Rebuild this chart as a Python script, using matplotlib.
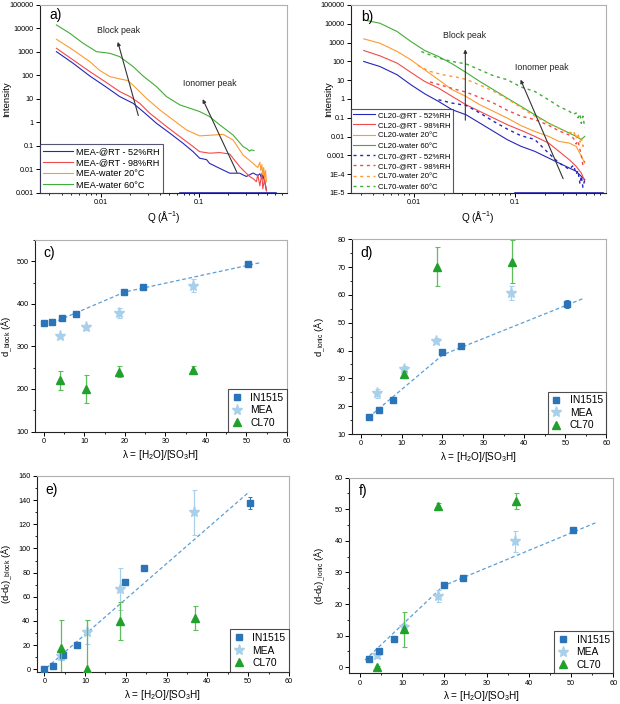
import matplotlib
matplotlib.use('Agg')
import matplotlib.pyplot as plt
from matplotlib.ticker import FixedLocator, MultipleLocator, NullFormatter, LogLocator
from matplotlib.lines import Line2D

plt.rcParams['font.family'] = ['Liberation Sans', 'DejaVu Sans']
plt.rcParams['mathtext.fontset'] = 'custom'
plt.rcParams['mathtext.rm'] = 'Liberation Sans'
plt.rcParams['mathtext.it'] = 'Liberation Sans:italic'
plt.rcParams['mathtext.bf'] = 'Liberation Sans:bold'
plt.rcParams['mathtext.default'] = 'regular'

# ---------------- Panel a data (MEA SAXS) ----------------
a_blue_q = [0.00353, 0.00522, 0.00772, 0.0114, 0.0156, 0.0214, 0.027, 0.037, 0.0506, 0.069, 0.0875, 0.102,
            0.12, 0.129, 0.164, 0.207, 0.262, 0.306, 0.358, 0.40, 0.42, 0.44, 0.45, 0.47, 0.49]
a_blue_i = [1030, 330, 95, 31.6, 12.6, 6.5, 2.9, 0.92, 0.35, 0.13, 0.057, 0.03,
            0.026, 0.018, 0.011, 0.0069, 0.0069, 0.005, 0.007, 0.0055, 0.0065, 0.004, 0.006, 0.003, 0.0013]
a_red_q = [0.00353, 0.00522, 0.00772, 0.0114, 0.0156, 0.0198, 0.025, 0.0316, 0.0468, 0.064, 0.0875, 0.102,
           0.129, 0.164, 0.207, 0.262, 0.33, 0.36, 0.387, 0.40, 0.42, 0.44, 0.45, 0.47, 0.49]
a_red_i = [1430, 457, 146, 50, 20.6, 12.6, 6.5, 2.46, 0.67, 0.25, 0.094, 0.057,
           0.049, 0.052, 0.045, 0.013, 0.005, 0.004, 0.003, 0.006, 0.002, 0.007, 0.0015, 0.004, 0.0012]
a_orange_q = [0.00353, 0.00522, 0.00772, 0.0098, 0.0124, 0.0156, 0.019, 0.0231, 0.0292, 0.04, 0.0547, 0.0748,
              0.102, 0.14, 0.177, 0.224, 0.283, 0.358, 0.40, 0.42, 0.43, 0.44, 0.45, 0.46, 0.47, 0.48, 0.49]
a_orange_i = [3460, 1216, 388, 161, 89, 71, 60, 28, 10.7, 3.4, 1.28, 0.48,
              0.267, 0.29, 0.31, 0.18, 0.041, 0.018, 0.012, 0.02, 0.009, 0.016, 0.006, 0.012, 0.004, 0.009, 0.003]
a_green_q = [0.00353, 0.00483, 0.0066, 0.00903, 0.0124, 0.0156, 0.0214, 0.027, 0.037, 0.0468, 0.064, 0.0875,
             0.102, 0.129, 0.164, 0.224, 0.283, 0.31, 0.33, 0.344, 0.366]
a_green_i = [14100, 6220, 2350, 1030, 870, 630, 238, 95, 33.5, 12.6, 5.6, 3.6,
             2.9, 1.77, 0.78, 0.29, 0.094, 0.075, 0.06, 0.068, 0.063]
a_floor_q = [0.065, 0.62]
a_labels = ['MEA-@RT - 52%RH', 'MEA-@RT - 98%RH', 'MEA-water 20°C', 'MEA-water 60°C']

# ---------------- Panel b data (CL20 / CL70 SAXS) ----------------
b_q20 = [0.00321, 0.00464, 0.00687, 0.0094, 0.01285, 0.0176, 0.024, 0.0329, 0.045, 0.0615, 0.084, 0.115,
         0.157, 0.215, 0.272, 0.344, 0.403, 0.453, 0.49]
b_cl20_blue = [98, 53, 19.2, 5.65, 1.88, 0.736, 0.266, 0.144, 0.052, 0.0188, 0.0068, 0.003,
               0.00163, 0.00072, 0.00039, 0.000213, 0.000141, 0.000076, 0.000051]
b_cl20_red = [376, 196, 80, 25.6, 8.5, 3.76, 1.36, 0.49, 0.217, 0.096, 0.0426, 0.0213,
              0.0102, 0.0045, 0.00163, 0.00059, 0.00026, 0.000115, 0.000042]
b_cl20_orange = [1567, 923, 333, 120, 35.4, 10.5, 3.07, 1.36, 0.49, 0.217, 0.096, 0.038,
                 0.0187, 0.0102, 0.0055, 0.0045, 0.003, 0.0009, 0.00039]
b_cl20_green = [15900, 10600, 3830, 1130, 376, 181, 73.6, 25.6, 8.5, 3.07, 1.1, 0.4,
                0.144, 0.052, 0.028, 0.0154, 0.0102, 0.0068, 0.0102]
b_cl70_green_q = [0.0119, 0.0176, 0.024, 0.0329, 0.045, 0.0615, 0.084, 0.115, 0.157, 0.215, 0.272, 0.344,
                  0.38, 0.403, 0.42, 0.44, 0.453, 0.47, 0.49]
b_cl70_green = [331, 148, 98, 73, 35.4, 17, 10.5, 4.3, 2.5, 0.9, 0.4, 0.22,
                0.15, 0.18, 0.1, 0.16, 0.05, 0.12, 0.03]
b_cl70_orange_q = [0.011, 0.0145, 0.0196, 0.0265, 0.0329, 0.045, 0.0615, 0.084, 0.115, 0.157, 0.215, 0.272,
                   0.344, 0.38, 0.403, 0.42, 0.44, 0.453, 0.47, 0.49]
b_cl70_orange = [60, 29, 19, 14.4, 11, 5.5, 2.6, 1.0, 0.35, 0.12, 0.05, 0.028,
                 0.015, 0.02, 0.008, 0.015, 0.005, 0.009, 0.003, 0.004]
b_cl70_red_q = [0.0145, 0.0196, 0.0265, 0.0329, 0.045, 0.0615, 0.084, 0.115, 0.157, 0.215, 0.272, 0.344,
                0.38, 0.403, 0.42, 0.44, 0.453, 0.47, 0.49]
b_cl70_red = [8, 5, 3.1, 2.3, 1.2, 0.6, 0.25, 0.12, 0.08, 0.04, 0.02, 0.012,
              0.008, 0.004, 0.006, 0.002, 0.001, 0.0003, 0.0005]
b_cl70_blue_q = [0.0176, 0.024, 0.0329, 0.045, 0.0615, 0.084, 0.115, 0.157, 0.215, 0.272, 0.344,
                 0.38, 0.403, 0.42, 0.44, 0.453, 0.47, 0.49]
b_cl70_blue = [0.9, 0.6, 0.45, 0.18, 0.064, 0.025, 0.011, 0.007, 0.0013, 0.0004, 0.00018,
               0.0003, 0.0001, 0.00015, 0.00003, 0.00008, 0.00002, 0.00005]
b_floor_q = [0.1, 0.75]
b_labels = ['CL20-@RT - 52%RH', 'CL20-@RT - 98%RH', 'CL20-water 20°C', 'CL20-water 60°C',
            'CL70-@RT - 52%RH', 'CL70-@RT - 98%RH', 'CL70-water 20°C', 'CL70-water 60°C']

# ---------------- Panels c-f data ----------------
in_lam = [0.0, 2.1, 4.5, 8.0, 19.9, 24.5, 50.5]
in_lam_ion = [2.1, 4.6, 8.0, 19.8, 24.5, 50.4]
mea_lam = [4.0, 10.5, 18.5, 36.8]
cl_lam = [4.0, 10.5, 18.6, 36.9]
cl_lam_ion = [10.5, 18.6, 36.9]

c_in = [355.7, 357, 366.7, 375.3, 427.8, 438.8, 493]
c_in_err = [3, 3, 3, 3, 3, 3, 3]
c_mea = [324.3, 344.7, 378.4, 442.7]
c_mea_err = [5, 6, 12, 15]
c_cl = [220, 201, 241, 244]
c_cl_err = [23, 33, 12, 9]
c_fit_x = [3.5, 20.0, 53.5]
c_fit_y = [361, 428, 497]

d_in = [16.2, 18.5, 22.2, 39.6, 41.8, 56.7]
d_in_err = [0.5, 0.5, 0.5, 0.5, 0.5, 1.5]
d_mea = [24.6, 33.4, 43.6, 60.8]
d_mea_err = [1.5, 1.0, 1.0, 2.5]
d_cl = [31.6, 70.2, 72.0]
d_cl_err = [1.0, 7.0, 7.8]
d_fit_x = [3.1, 20.1, 54.5]
d_fit_y = [17.4, 38.5, 58.8]

e_in = [0.55, 2.8, 11.9, 20.4, 72.6, 83.9, 137.4]
e_in_err = [1, 1, 1, 1, 2, 1, 5]
e_mea = [10.8, 30.6, 66.5, 130]
e_mea_err = [3, 10, 17.5, 18.5]
e_cl = [17.9, 0.55, 40, 42.5]
e_cl_err = [23, 40, 15.5, 10]
e_fit_x = [0.5, 50.3]
e_fit_y = [1.0, 147]

f_in = [2.6, 5.2, 8.8, 26.0, 28.3, 43.5]
f_in_err = [0.5, 0.5, 0.5, 0.8, 0.5, 1.0]
f_mea = [3.8, 12.8, 22.6, 39.8]
f_mea_err = [0.8, 1.0, 2.0, 3.3]
f_cl = [0.0, 12.0, 51.0, 52.6]
f_cl_err = [0.3, 5.6, 1.0, 2.5]
f_fit_x = [1.2, 19.8, 55.8]
f_fit_y = [2.3, 25.8, 45.7]

# ---------------- styling ----------------
C_BLUE = '#2626b8'
C_RED = '#f24a4a'
C_ORANGE = '#ff9a30'
C_GREEN = '#42ad36'
C_IN = '#2b74b8'
C_MEA = '#a8d0ea'
C_CL = '#22a02c'
C_FIT = '#5b9fd6'
TICK_FS = 5.2
LAB_FS = 6.8

fig = plt.figure(figsize=(6.2, 7.04), dpi=100)


def style_axes(ax):
    for s in ['left', 'bottom']:
        ax.spines[s].set_color('#222222')
        ax.spines[s].set_linewidth(0.8)
    for s in ['top', 'right']:
        ax.spines[s].set_color('#b0b0b0')
        ax.spines[s].set_linewidth(0.8)
    ax.tick_params(which='major', direction='out', length=3, width=0.7, labelsize=TICK_FS, pad=1.5,
                   top=False, right=False)
    ax.tick_params(which='minor', direction='out', length=1.6, width=0.6, top=False, right=False)


def log_x(ax):
    ax.set_xscale('log')
    ax.set_xlim(0.0024, 0.79)
    ax.xaxis.set_major_locator(FixedLocator([0.01, 0.1]))
    ax.set_xticklabels(['0.01', '0.1'])
    ax.xaxis.set_minor_locator(LogLocator(base=10, subs=range(2, 10)))
    ax.xaxis.set_minor_formatter(NullFormatter())
    ax.set_xlabel('Q (Å$^{-1}$)', fontsize=LAB_FS + 0.4, labelpad=2)


# ---- a ----
axa = fig.add_axes([0.0645, 0.726, 0.398, 0.267])
style_axes(axa)
axa.plot(a_blue_q, a_blue_i, color=C_BLUE, lw=0.8, label=a_labels[0])
axa.plot(a_red_q, a_red_i, color=C_RED, lw=0.8, label=a_labels[1])
axa.plot(a_orange_q, a_orange_i, color=C_ORANGE, lw=0.8, label=a_labels[2])
axa.plot(a_green_q, a_green_i, color=C_GREEN, lw=0.8, label=a_labels[3])
axa.plot(a_floor_q, [0.001, 0.001], color=C_BLUE, lw=1.2, clip_on=False)
axa.set_yscale('log')
axa.set_ylim(0.001, 100000)
log_x(axa)
a_yt = [0.001, 0.01, 0.1, 1, 10, 100, 1000, 10000, 100000]
axa.yaxis.set_major_locator(FixedLocator(a_yt))
axa.set_yticklabels(['0.001', '0.01', '0.1', '1', '10', '100', '1000', '10000', '100000'])
axa.yaxis.set_minor_formatter(NullFormatter())
axa.tick_params(axis='y', which='minor', length=0)
axa.set_ylabel('Intensity', fontsize=LAB_FS)
axa.yaxis.set_label_coords(-0.117, 0.5)
axa.annotate('', xy=(0.01467, 3470), xytext=(0.0246, 1.51),
             arrowprops=dict(arrowstyle='-|>', color='#333333', lw=0.8, mutation_scale=5))
axa.text(0.01503, 8050, 'Block peak', fontsize=6.3, ha='center', va='center', color='#222222')
axa.annotate('', xy=(0.1066, 12.5), xytext=(0.252, 0.00583),
             arrowprops=dict(arrowstyle='-|>', color='#333333', lw=0.8, mutation_scale=5))
axa.text(0.129, 43.5, 'Ionomer peak', fontsize=6.3, ha='center', va='center', color='#222222')
axa.text(0.04, 0.945, 'a)', transform=axa.transAxes, fontsize=10, ha='left', va='center')
leg = axa.legend(loc='lower left', fontsize=6.6, frameon=True, fancybox=False, borderpad=0.35,
                 handlelength=3.2, handletextpad=0.4, labelspacing=0.25, borderaxespad=0.0)
leg.get_frame().set_edgecolor('#2a2a55')
leg.get_frame().set_linewidth(0.8)

# ---- b ----
axb = fig.add_axes([0.566, 0.726, 0.411, 0.267])
style_axes(axb)
dash = (0, (2.2, 2.6))
axb.plot(b_q20, b_cl20_blue, color=C_BLUE, lw=0.8, label=b_labels[0])
axb.plot(b_q20, b_cl20_red, color=C_RED, lw=0.8, label=b_labels[1])
axb.plot(b_q20, b_cl20_orange, color=C_ORANGE, lw=0.8, label=b_labels[2])
axb.plot(b_q20, b_cl20_green, color=C_GREEN, lw=0.8, label=b_labels[3])
axb.plot(b_cl70_blue_q, b_cl70_blue, color=C_BLUE, lw=1.0, ls=dash, label=b_labels[4])
axb.plot(b_cl70_red_q, b_cl70_red, color=C_RED, lw=1.0, ls=dash, label=b_labels[5])
axb.plot(b_cl70_orange_q, b_cl70_orange, color=C_ORANGE, lw=1.0, ls=dash, label=b_labels[6])
axb.plot(b_cl70_green_q, b_cl70_green, color=C_GREEN, lw=1.0, ls=dash, label=b_labels[7])
axb.plot(b_floor_q, [1e-5, 1e-5], color=C_BLUE, lw=1.2, clip_on=False)
axb.set_yscale('log')
axb.set_ylim(1e-5, 100000)
log_x(axb)
b_yt = [1e-5, 1e-4, 1e-3, 1e-2, 0.1, 1, 10, 100, 1000, 10000, 100000]
axb.yaxis.set_major_locator(FixedLocator(b_yt))
axb.set_yticklabels(['1E-5', '1E-4', '0.001', '0.01', '0.1', '1', '10', '100', '1000', '10000', '100000'])
axb.yaxis.set_minor_formatter(NullFormatter())
axb.tick_params(axis='y', which='minor', length=0)
axb.set_ylabel('Intensity', fontsize=LAB_FS)
axb.yaxis.set_label_coords(-0.069, 0.5)
axb.annotate('', xy=(0.0324, 611), xytext=(0.0324, 0.0525),
             arrowprops=dict(arrowstyle='-|>', color='#333333', lw=0.8, mutation_scale=5))
axb.text(0.0316, 2340, 'Block peak', fontsize=6.3, ha='center', va='center', color='#222222')
axb.annotate('', xy=(0.111, 14.5), xytext=(0.307, 4.2e-5),
             arrowprops=dict(arrowstyle='-|>', color='#333333', lw=0.8, mutation_scale=5))
axb.text(0.184, 46.7, 'Ionomer peak', fontsize=6.3, ha='center', va='center', color='#222222')
axb.text(0.042, 0.938, 'b)', transform=axb.transAxes, fontsize=10, ha='left', va='center')
leg = axb.legend(loc='lower left', fontsize=5.6, frameon=True, fancybox=False, borderpad=0.3,
                 handlelength=2.8, handletextpad=0.4, labelspacing=0.36, borderaxespad=0.0)
leg.get_frame().set_edgecolor('#2a2a55')
leg.get_frame().set_linewidth(0.8)


# ---- c-f ----
def lam_panel(rect, letter, ylim, ymaj, ymin, ylabel, labx, xs_in, y_in, e_in_, y_mea, e_mea_, xs_cl, y_cl,
              e_cl_, fx, fy, xlim=(-2.2, 60)):
    ax = fig.add_axes(rect)
    style_axes(ax)
    ax.plot(fx, fy, color=C_FIT, lw=0.9, ls=(0, (3, 2)), zorder=2)
    ax.errorbar(mea_lam, y_mea, yerr=e_mea_, fmt='*', ms=8, color=C_MEA, ecolor=C_MEA, elinewidth=0.9,
                capsize=1.8, capthick=0.8, zorder=3, mec=C_MEA)
    ax.errorbar(xs_in, y_in, yerr=e_in_, fmt='s', ms=5, color=C_IN, ecolor=C_IN, elinewidth=0.8,
                capsize=1.5, capthick=0.7, zorder=4, mec=C_IN)
    ax.errorbar(xs_cl, y_cl, yerr=e_cl_, fmt='^', ms=6, color=C_CL, ecolor='#5cbf5c', elinewidth=0.9,
                capsize=1.8, capthick=0.8, zorder=5, mec=C_CL)
    ax.set_xlim(*xlim)
    ax.set_ylim(*ylim)
    ax.xaxis.set_major_locator(MultipleLocator(10))
    ax.xaxis.set_minor_locator(MultipleLocator(5))
    ax.yaxis.set_major_locator(MultipleLocator(ymaj))
    ax.yaxis.set_minor_locator(MultipleLocator(ymin))
    ax.set_xlabel('λ = [H$_2$O]/[SO$_3$H]', fontsize=LAB_FS + 0.4, labelpad=2)
    ax.set_ylabel(ylabel, fontsize=LAB_FS)
    ax.yaxis.set_label_coords(labx, 0.5)
    ax.text(0.035, 0.93, letter, transform=ax.transAxes, fontsize=10, ha='left', va='center')
    handles = [Line2D([], [], ls='none', marker='s', ms=5, color=C_IN),
               Line2D([], [], ls='none', marker='*', ms=8, color=C_MEA),
               Line2D([], [], ls='none', marker='^', ms=6, color=C_CL)]
    leg = ax.legend(handles, ['IN1515', 'MEA', 'CL70'], loc='lower right', fontsize=7.4,
                    frameon=True, fancybox=False, borderpad=0.35, handlelength=1.0, handletextpad=0.8,
                    labelspacing=0.25, borderaxespad=0.0)
    leg.get_frame().set_edgecolor('#222222')
    leg.get_frame().set_linewidth(0.8)
    return ax


lam_panel([0.0565, 0.387, 0.406, 0.272], 'c)', (100, 550), 100, 50, 'd$_{\\_\\mathrm{block}}$ (Å)', -0.08,
          in_lam, c_in, c_in_err, c_mea, c_mea_err, cl_lam, c_cl, c_cl_err, c_fit_x, c_fit_y)
lam_panel([0.567, 0.3835, 0.411, 0.2766], 'd)', (10, 80), 10, 5, 'd$_{\\_\\mathrm{ionic}}$ (Å)', -0.093,
          in_lam_ion, d_in, d_in_err, d_mea, d_mea_err, cl_lam_ion, d_cl, d_cl_err, d_fit_x, d_fit_y)
lam_panel([0.059, 0.0459, 0.407, 0.278], 'e)', (-2, 160), 20, 10,
          '(d-d$_\\mathrm{0}$)$_{\\_\\mathrm{block}}$ (Å)', -0.086,
          in_lam, e_in, e_in_err, e_mea, e_mea_err, cl_lam, e_cl, e_cl_err, e_fit_x, e_fit_y, xlim=(-1.9, 60))
lam_panel([0.5634, 0.0436, 0.4258, 0.278], 'f)', (-1.9, 60), 10, 5,
          '(d-d$_\\mathrm{0}$)$_{\\_\\mathrm{ionic}}$ (Å)', -0.081,
          in_lam_ion, f_in, f_in_err, f_mea, f_mea_err, cl_lam, f_cl, f_cl_err, f_fit_x, f_fit_y,
          xlim=(-2.5, 60))

fig.savefig('out.png', dpi=100)
